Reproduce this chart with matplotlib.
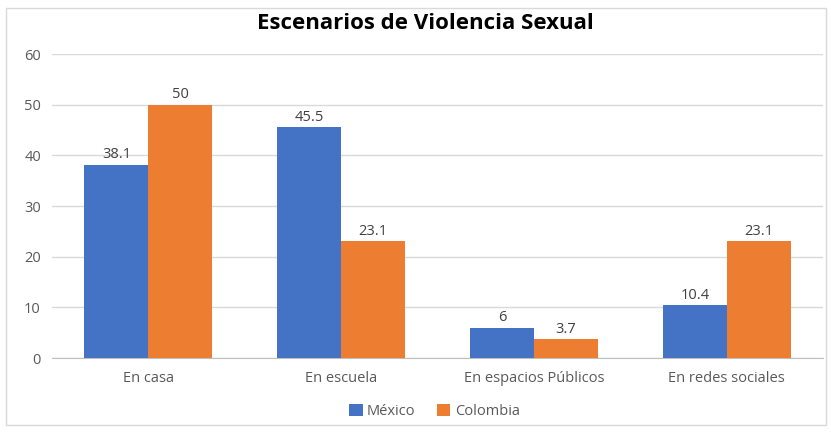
import matplotlib.pyplot as plt
import numpy as np
from matplotlib.patches import Rectangle

plt.rcParams['font.family'] = ['Open Sans', 'DejaVu Sans']

categories = ["En casa", "En escuela", "En espacios Públicos", "En redes sociales"]
mexico = [38.1, 45.5, 6, 10.4]
colombia = [50, 23.1, 3.7, 23.1]
mexico_labels = ["38.1", "45.5", "6", "10.4"]
colombia_labels = ["50", "23.1", "3.7", "23.1"]

blue = "#4472C4"
orange = "#ED7D31"
gray_text = "#595959"

fig = plt.figure(figsize=(8.31, 4.32), dpi=100)
ax = fig.add_axes([0.0626, 0.171, 0.928, 0.704])

# chart border
fig.patches.append(Rectangle((0.007, 0.016), 0.987, 0.965, transform=fig.transFigure,
                             fill=False, edgecolor="#D9D9D9", linewidth=1))

x = np.arange(len(categories))
w = 0.332
b1 = ax.bar(x - w / 2, mexico, w, color=blue, label="México", zorder=3)
b2 = ax.bar(x + w / 2, colombia, w, color=orange, label="Colombia", zorder=3)

for bars, labs in ((b1, mexico_labels), (b2, colombia_labels)):
    for rect, lab in zip(bars, labs):
        ax.text(rect.get_x() + rect.get_width() / 2, rect.get_height() + 0.5, lab,
                ha="center", va="bottom", fontsize=10.5, color="#404040")

ax.set_xlim(-0.5, 3.5)
ax.set_ylim(0, 60)
ax.set_yticks(range(0, 61, 10))
ax.set_xticks(x)
ax.set_xticklabels(categories)
ax.tick_params(axis="both", length=0, labelsize=10.5, colors=gray_text)
ax.tick_params(axis="x", pad=9)
ax.tick_params(axis="y", pad=8)
ax.grid(axis="y", color="#D9D9D9", linewidth=1, zorder=0)
for s in ["top", "right", "left"]:
    ax.spines[s].set_visible(False)
ax.spines["bottom"].set_color("#BFBFBF")

fig.text(0.512, 0.945, "Escenarios de Violencia Sexual", ha="center", va="center",
         fontsize=16, fontweight="bold", color="black")

fig.legend(handles=[b1, b2], labels=["México", "Colombia"], loc="center",
           bbox_to_anchor=(0.523, 0.047), ncol=2, frameon=False, fontsize=10.5,
           handlelength=0.9, handleheight=0.9, handletextpad=0.3, columnspacing=1.5,
           labelcolor=gray_text)

fig.savefig("out.png", dpi=100)
